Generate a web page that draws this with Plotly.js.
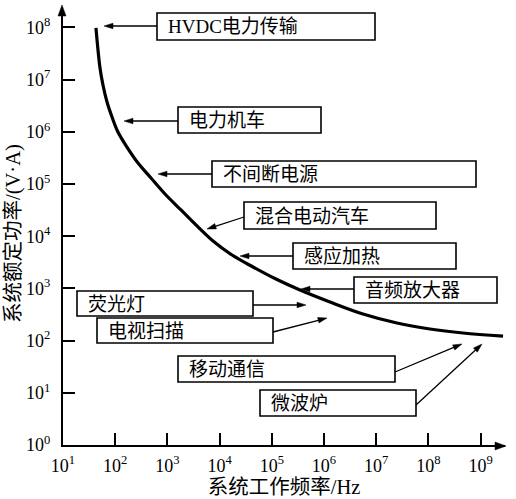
<!DOCTYPE html>
<html>
<head>
<meta charset="utf-8">
<script src="https://cdn.plot.ly/plotly-3.0.1.min.js"></script>
<style>html,body{margin:0;padding:0;background:#fff;}#chart{width:516px;height:499px;}</style>
</head>
<body>
<div id="chart"></div>
<script>
// ---- data ----
var frequencyHz = [42.8, 46.8, 51.2, 58.3, 69.7, 86.9, 113, 168, 274, 485, 900, 1820, 3690, 7480, 17300, 43700, 1.20e5, 3.47e5, 1.30e6, 5.58e6, 2.50e7, 1.07e8, 4.60e8, 2.69e9];
var ratedPowerVA = [9.75e7, 3.69e7, 1.67e7, 7.88e6, 3.72e6, 1.92e6, 9.9e5, 5.1e5, 2.52e5, 1.30e5, 6.43e4, 3.18e4, 1.57e4, 8090, 4360, 2570, 1510, 931, 549, 323, 217, 167, 140, 122];
var xTickVals = [1e1, 1e2, 1e3, 1e4, 1e5, 1e6, 1e7, 1e8, 1e9];
var xTickText = ['10<sup>1</sup>', '10<sup>2</sup>', '10<sup>3</sup>', '10<sup>4</sup>', '10<sup>5</sup>', '10<sup>6</sup>', '10<sup>7</sup>', '10<sup>8</sup>', '10<sup>9</sup>'];
var yTickVals = [1e0, 1e1, 1e2, 1e3, 1e4, 1e5, 1e6, 1e7, 1e8];
var yTickText = ['10<sup>0</sup>', '10<sup>1</sup>', '10<sup>2</sup>', '10<sup>3</sup>', '10<sup>4</sup>', '10<sup>5</sup>', '10<sup>6</sup>', '10<sup>7</sup>', '10<sup>8</sup>'];
var applicationLabels = ['HVDC电力传输', '电力机车', '不间断电源', '混合电动汽车', '感应加热', '音频放大器', '荧光灯', '电视扫描', '移动通信', '微波炉'];
var xTitle = '系统工作频率/Hz';
var yTitle = '系统额定功率/(V·A)';

// ---- layout geometry (pixels in the 516x499 picture) ----
var W = 516, H = 499;
var L = 63, R = 505, T = 8, B = 445;
var DEC = 52.2; // pixels per decade
function P(px) { return (px - L) / (R - L); }
function Q(py) { return (B - py) / (B - T); }

var boxes = [
  [157, 13, 375, 40],
  [178, 107, 321, 133],
  [212, 161, 476, 187],
  [244, 202, 436, 229],
  [293, 243, 456, 269],
  [354, 277, 497, 303],
  [77, 291, 253, 316],
  [97, 318, 273, 343],
  [178, 356, 395, 382],
  [260, 390, 416, 416]
];
// tail (x,y) -> head (x,y)
var arrows = [
  [157, 26, 104, 26],
  [178, 121, 124, 121],
  [212, 174, 158, 174],
  [244, 217, 207, 229],
  [293, 256, 240, 256],
  [354, 289, 301, 289],
  [253, 305, 306, 305],
  [273, 332, 327, 318],
  [395, 372, 462, 344],
  [416, 405, 482, 344]
];

var FONT = '"Liberation Serif", "Times New Roman", "Noto Sans CJK SC", serif';

var shapes = [];
function arrowShapes(tx, ty, hx, hy, len, half, lw) {
  var dx = hx - tx, dy = hy - ty, d = Math.sqrt(dx * dx + dy * dy);
  var ux = dx / d, uy = dy / d, nx = -uy, ny = ux;
  var bx = hx - ux * len, by = hy - uy * len;
  shapes.push({
    type: 'line', xref: 'paper', yref: 'paper',
    x0: P(tx), y0: Q(ty), x1: P(bx + ux * 2), y1: Q(by + uy * 2),
    line: {color: '#000', width: lw}, layer: 'above'
  });
  shapes.push({
    type: 'path', xref: 'paper', yref: 'paper',
    path: 'M ' + P(hx) + ' ' + Q(hy) +
          ' L ' + P(bx + nx * half) + ' ' + Q(by + ny * half) +
          ' L ' + P(bx - nx * half) + ' ' + Q(by - ny * half) + ' Z',
    fillcolor: '#000', line: {color: '#000', width: 0.5}, layer: 'above'
  });
}

boxes.forEach(function (b) {
  shapes.push({
    type: 'rect', xref: 'paper', yref: 'paper',
    x0: P(b[0]), x1: P(b[2]), y0: Q(b[3]), y1: Q(b[1]),
    line: {color: '#000', width: 1.6}, fillcolor: '#fff', layer: 'above'
  });
});
arrows.forEach(function (a) { arrowShapes(a[0], a[1], a[2], a[3], 9, 2.8, 1.3); });
// axis arrowheads
arrowShapes(L - 1, 40, L - 1, 5, 11, 4, 2);
arrowShapes(470, B + 1, 506, B + 1, 11, 4, 2);

var annotations = [];
boxes.forEach(function (b, i) {
  annotations.push({
    xref: 'paper', yref: 'paper', x: P(b[0] + 9), y: Q((b[1] + b[3]) / 2 + 0.5),
    xanchor: 'left', yanchor: 'middle', showarrow: false,
    text: applicationLabels[i], font: {family: FONT, size: 19, color: '#000'}
  });
});
// y-axis title (placed as in the reference, slightly below the plot centre)
annotations.push({
  xref: 'paper', yref: 'paper', x: P(13), y: Q(234),
  xanchor: 'center', yanchor: 'middle', textangle: -90, showarrow: false,
  text: yTitle, font: {family: FONT, size: 20.5, color: '#000'}
});

var trace = {
  x: frequencyHz, y: ratedPowerVA, type: 'scatter', mode: 'lines',
  line: {color: '#000', width: 3.2, shape: 'spline', smoothing: 1},
  hoverinfo: 'skip'
};

var axisCommon = {
  type: 'log', showgrid: false, zeroline: false, showline: true,
  linecolor: '#000', linewidth: 2, ticks: 'inside', ticklen: 12, tickwidth: 2,
  tickcolor: '#000', tickfont: {family: FONT, size: 18, color: '#000'},
  tickmode: 'array'
};

var layout = {
  width: W, height: H,
  margin: {l: L, r: W - R, t: T, b: H - B, pad: 0},
  paper_bgcolor: '#fff', plot_bgcolor: '#fff',
  showlegend: false,
  xaxis: Object.assign({}, axisCommon, {
    range: [1, 1 + (R - L) / DEC],
    tickvals: xTickVals, ticktext: xTickText,
    ticklabelstandoff: 3,
    title: {text: xTitle, font: {family: FONT, size: 20.5, color: '#000'}, standoff: 2}
  }),
  yaxis: Object.assign({}, axisCommon, {
    range: [0, (B - T) / DEC],
    tickvals: yTickVals, ticktext: yTickText,
    ticklabelstandoff: 7
  }),
  shapes: shapes,
  annotations: annotations
};

Plotly.newPlot('chart', [trace], layout, {staticPlot: true, displayModeBar: false});
</script>
</body>
</html>
